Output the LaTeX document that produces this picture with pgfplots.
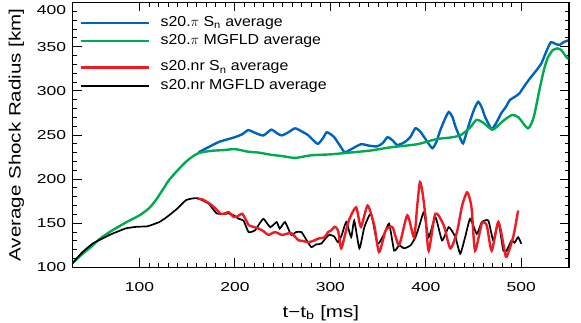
\documentclass[border=0pt]{standalone}
\usepackage{fontspec}
\setmainfont{Liberation Sans}
\newfontfamily\tickfont[FakeStretch=1.35]{Liberation Sans}
\newfontfamily\labfont[FakeStretch=1.25]{Liberation Sans}
\newfontfamily\legfont[FakeStretch=1.1]{Liberation Sans}
\usepackage{pgfplots}
\pgfplotsset{compat=1.18}

\definecolor{snblue}{RGB}{0,100,190}
\definecolor{mgreen}{RGB}{0,170,78}
\definecolor{snred}{RGB}{236,28,36}

% s20.pi Sn average
\pgfplotstableread{
t r
162 230.5
172 236
183 242
192 245
200 247.5
208 251
214 255.5
222 252
230 249.5
238 256
244 252
249 249.5
256 253
263 257.5
270 254
277 249.5
282 244
287 240
292 246
296 253
300 251
304 247.5
310 238
315 230.5
322 234
332 239.5
340 238
349 237
355 241
360 247.5
366 243
370 238.5
378 242
384 248
389 257.5
394 254
398 248
403 240
407 235
411 242
415 255
420 268
424 276
428 270
431 259.5
435 249
439 240.5
443 254
447 268
451 280
455 287.5
459 280
462 270.5
466 262
469 256.5
474 264
479 274.5
484 282
488 289.5
493 293
498 297
503 305
509 314
515 322
521 331
526 344
531 355
536 353
540 352
545 355.5
549 357
}\snpi

% s20.pi MGFLD average
\pgfplotstableread{
t r
30 105
40 115
50 124
58 132
70 141
86 151
100 159
110 167
117 176
125 189
131 199
140 210
148 219
155 225
162 229.5
175 232
190 233
200 234
214 231
225 230
238 227.5
250 226
263 224
280 227
300 228
315 229.5
330 231
343 232.5
363 236
380 238
391 239.5
400 242
412 245.5
425 247
436 249.5
446 258
453 267
460 264
470 256
480 265
490 272.5
497 270
507 257.5
513 270
519 301
524 325
528 338
533 346
538 348
542 346
547 338.6
549 336
}\mgpi

% s20.nr MGFLD average
\pgfplotstableread{
t r
30 105
40 117
51 127
60 132
69 137
78 141
86 144.3
97 146
108 146.5
115 149
121 151.5
126 155
131 159
140 167
148.5 176
155 178
160.6 178.5
166 176
172.7 172
177 166
181 161
187 160.5
193.5 161
198.7 159
204 155
209 153
214.3 140
221 142
226 150
230 155
237 145.6
243.7 151.3
247 144
252.5 151.3
259 136.8
264 140
269.7 140
275 131
280 123
285 126
290.5 127
295 133
299 137
304 135
308 128.6
312 137
316.6 151.3
321.8 134.3
325 153
330.4 121.6
335.6 145.6
342.6 160.8
349.4 126.8
356.4 138
361.6 149.5
366.8 119
372 125
377.2 121.6
384 125
389.2 134.3
394 150
398 162.6
403 134.3
410 157
417 130.5
424 145.6
431 134.3
436 115.5
441.2 134.3
446.4 155
453.4 138
458.6 151.3
465.5 153
470.8 130
476 151.3
481.2 119
484.6 119
489.8 130.5
493 128
496.7 134.3
500 126.8
}\mgnr

% s20.nr Sn average
\pgfplotstableread{
t r
160.6 178
166 177
171 174
175 171
179.7 166.6
185 160.8
189 161
193.5 162.6
198.7 157
203 158
207.4 160.8
211 155
214.3 148
219 146
224.7 144
230 141
235 136.8
242 140
249 136.8
254 138
259.3 138.7
266.3 131
271 130
276.7 128.6
282 130
287 132.5
294 134.3
297.5 140
301 142
304.4 146
308 142
311.3 121.6
316 140
320 155
327 168
332 146
339 170
346 147.5
351 117.3
358 142
365 145.6
372 125.5
380.6 159
387.6 134.3
391 170
393.8 196.6
396.5 185
399.7 157
403 119
410 160.8
418.8 147.5
425.6 121.6
432.6 140
438 170
443 185
446 178
448.2 164.5
451.6 119
458.6 149.5
463.8 147.6
469 119
476 151.3
482.8 117.3
484.6 112
491.5 134.3
496.7 164.5
}\snnr

\begin{document}
\begin{tikzpicture}
\begin{axis}[
    name=ax,
    scale only axis,
    width=496.5bp, height=265bp,
    xmin=30, xmax=550,
    ymin=100, ymax=400,
    xtick={100,200,300,400,500},
    ytick={100,150,...,400},
    minor x tick num=9,
    minor y tick num=4,
    tick align=inside,
    major tick length=9bp,
    minor tick length=4.5bp,
    axis line style={line width=1.1bp},
    every tick/.style={black, line width=0.9bp},
    /pgf/number format/assume math mode=true,
    ticklabel style={font=\tickfont\fontsize{13}{15}\selectfont},
    yticklabel={\ifdim\tick pt>399pt\raisebox{-12.5bp}[0pt][0pt]{\pgfmathprintnumber{\tick}}\else\pgfmathprintnumber{\tick}\fi},
    yticklabel style={xshift=-3bp},
    xticklabel style={yshift=-12bp},
    xlabel={t−t\textsubscript{b} [ms]},
    ylabel={Average Shock Radius [km]},
    xlabel style={yshift=-6.5bp},
    ylabel style={yshift=6bp},
    label style={font=\labfont\fontsize{16.5}{19}\selectfont},
    clip=true,
]
\addplot[snblue, line width=2.4bp, smooth, tension=0.4] table[x=t,y=r] {\snpi};
\addplot[mgreen, line width=2.4bp, smooth, tension=0.4] table[x=t,y=r] {\mgpi};
\addplot[black, line width=1.7bp, smooth, tension=0.3] table[x=t,y=r] {\mgnr};
\addplot[snred, line width=2.4bp, smooth, tension=0.4] table[x=t,y=r] {\snnr};

% legend
\draw[snblue, line width=2.4bp] (axis cs:39,376.5) -- (axis cs:110,376.5);
\draw[mgreen, line width=2.4bp] (axis cs:39,356.4) -- (axis cs:110,356.4);
\draw[snred, line width=2.4bp] (axis cs:39,326.2) -- (axis cs:110,326.2);
\draw[black, line width=1.7bp] (axis cs:39,305.5) -- (axis cs:110,305.5);
\begin{scope}[every node/.style={anchor=west, inner sep=0pt, font=\legfont\fontsize{14.5}{17}\selectfont}]
\node at (axis cs:122,377) {s20.$\pi$ S\textsubscript{n} average};
\node at (axis cs:122,357) {s20.$\pi$ MGFLD average};
\node at (axis cs:122,326.5) {s20.nr S\textsubscript{n} average};
\node at (axis cs:122,306) {s20.nr MGFLD average};
\end{scope}
\end{axis}
\pgfresetboundingbox
\path[use as bounding box] ([shift={(-72.7bp,-55.5bp)}]ax.south west) rectangle ([shift={(12bp,2.5bp)}]ax.north east);
\end{tikzpicture}
\end{document}
